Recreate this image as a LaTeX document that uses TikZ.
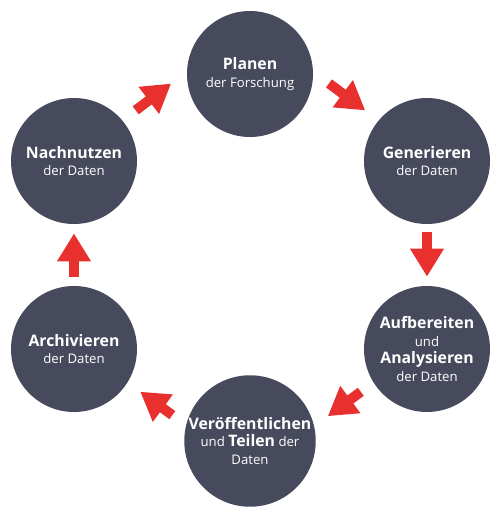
\documentclass[tikz,border=0pt]{standalone}
\usepackage{fontspec}
\setmainfont{Open Sans}
\usetikzlibrary{arrows.meta}
\definecolor{CK}{RGB}{71, 74, 92}
\definecolor{CR}{RGB}{232, 49, 47}
\newcommand{\hd}[1]{{\fontsize{9}{10}\selectfont\bfseries #1}}

\begin{document}
\begin{tikzpicture}[
    phase/.style={circle, fill=CK, minimum size=2.52cm, inner sep=0pt, text=white,
                  align=center, font=\fontsize{7.5}{10}\selectfont},
    flow/.style={draw=CR, line width=0.2cm, -{Triangle[length=0.56cm, width=0.64cm]}}
]
        \useasboundingbox (0,0) rectangle (10.0, 10.24);
        % Phasen
        \node[phase] (plan) at (5.00, 8.76) {\hd{Planen}\\der Forschung};
        \node[phase] (gen)  at (8.54, 7.02) {\hd{Generieren}\\der Daten};
        \node[phase] (auf)  at (8.54, 3.26) {\hd{Aufbereiten}\\und\\\hd{Analysieren}\\der Daten};
        \node[phase] (ver)  at (5.00, 1.42) {\hd{Veröffentlichen}\\und \hd{Teilen} der\\Daten};
        \node[phase] (arc)  at (1.48, 3.26) {\hd{Archivieren}\\der Daten};
        \node[phase] (nach) at (1.48, 7.02) {\hd{Nachnutzen}\\der Daten};
        % Pfeile
        \draw[flow, shorten <=0.39cm, shorten >=0.33cm]  (plan.2)     -- (gen.140);
        \draw[flow, shorten <=0.16cm, shorten >=0.18cm]  (gen.south)  -- (auf.north);
        \draw[flow, shorten <=0.31cm, shorten >=0.335cm] (auf.212)    -- (ver.13.6);
        \draw[flow, shorten <=0.335cm, shorten >=0.31cm] (ver.166.4)  -- (arc.328);
        \draw[flow, shorten <=0.18cm, shorten >=0.18cm]  (arc.north)  -- (nach.south);
        \draw[flow, shorten <=0.33cm, shorten >=0.39cm]  (nach.40)    -- (plan.178);
    \end{tikzpicture}
\end{document}
